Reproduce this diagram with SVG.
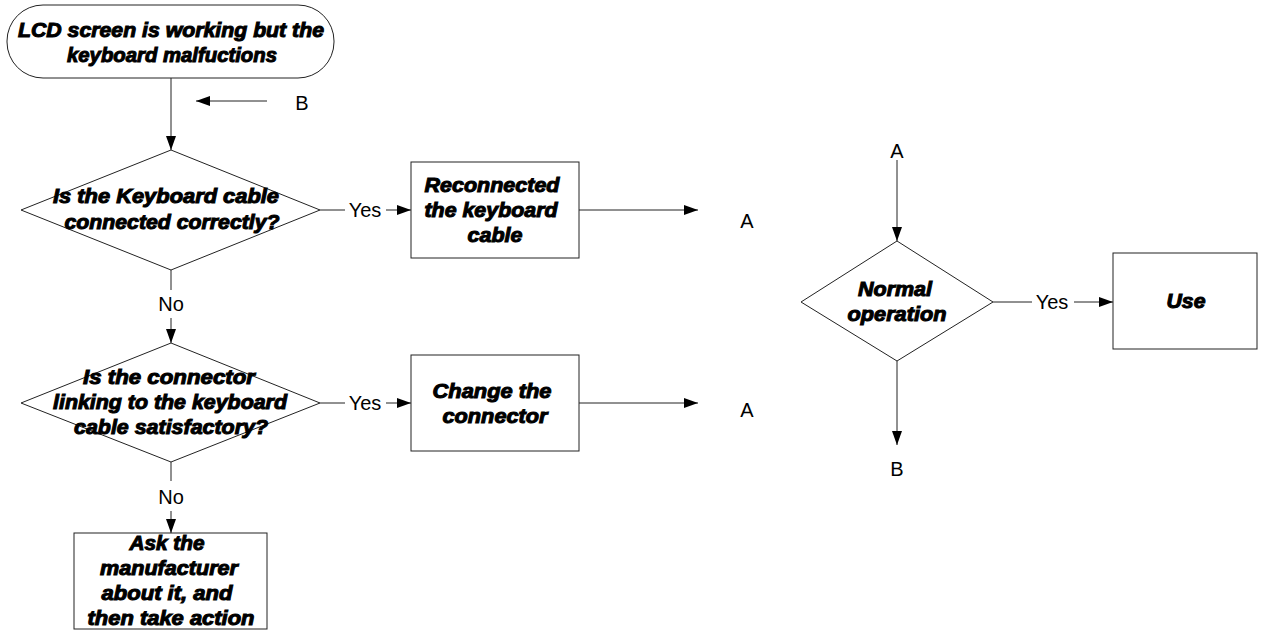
<svg xmlns="http://www.w3.org/2000/svg" width="1262" height="631" viewBox="0 0 1262 631">
<defs>
<marker id="arr" markerUnits="userSpaceOnUse" markerWidth="16" markerHeight="12" refX="14" refY="5" orient="auto">
<path d="M0,0 L14,5 L0,10 z" fill="#000"/>
</marker>
<style>
.shape{fill:#fff;stroke:#222;stroke-width:1}
.bt{font-family:"Liberation Sans",Arial,sans-serif;font-weight:bold;font-style:italic;font-size:19.5px;fill:#000;stroke:#000;stroke-width:1;text-anchor:middle}
.lb{font-family:"Liberation Sans",Arial,sans-serif;font-size:20px;fill:#000;text-anchor:middle}
.ln{fill:none;stroke:#222;stroke-width:1}
.la{fill:none;stroke:#222;stroke-width:1;marker-end:url(#arr)}
</style>
</defs>
<rect width="1262" height="631" fill="#fff"/>
<g id="connectors">
<line class="la" x1="171" y1="78" x2="171" y2="150"/>
<line class="la" x1="267" y1="101" x2="196" y2="101"/>
<line class="ln" x1="320" y1="210" x2="345" y2="210"/>
<line class="la" x1="386" y1="210" x2="411" y2="210"/>
<line class="la" x1="579" y1="210" x2="698" y2="210"/>
<line class="ln" x1="171" y1="270" x2="171" y2="290"/>
<line class="la" x1="171" y1="318" x2="171" y2="343"/>
<line class="ln" x1="320" y1="403" x2="345" y2="403"/>
<line class="la" x1="386" y1="403" x2="411" y2="403"/>
<line class="la" x1="579" y1="403" x2="698" y2="403"/>
<line class="ln" x1="171" y1="462" x2="171" y2="481"/>
<line class="la" x1="171" y1="511" x2="171" y2="533"/>
<line class="la" x1="897" y1="160" x2="897" y2="241"/>
<line class="ln" x1="993" y1="302" x2="1032" y2="302"/>
<line class="la" x1="1074" y1="302" x2="1113" y2="302"/>
<line class="la" x1="897" y1="361" x2="897" y2="445"/>
<text class="lb" x="302" y="110">B</text>
<text class="lb" x="365" y="217">Yes</text>
<text class="lb" x="747" y="228">A</text>
<text class="lb" x="171" y="311">No</text>
<text class="lb" x="365" y="410">Yes</text>
<text class="lb" x="747" y="417">A</text>
<text class="lb" x="171" y="504">No</text>
<text class="lb" x="897" y="158">A</text>
<text class="lb" x="1052" y="309">Yes</text>
<text class="lb" x="897" y="476">B</text>
</g>
<g id="start">
<rect class="shape" x="7" y="5" width="327" height="73" rx="36" ry="36"/>
<text class="bt" x="171" y="37" textLength="306" lengthAdjust="spacingAndGlyphs">LCD screen is working but the</text>
<text class="bt" x="172" y="62" textLength="210" lengthAdjust="spacingAndGlyphs">keyboard malfuctions</text>
</g>
<g id="decision1">
<polygon class="shape" points="171,150 320,210 171,270 21,210"/>
<text class="bt" x="166" y="203" textLength="226" lengthAdjust="spacingAndGlyphs">Is the Keyboard cable</text>
<text class="bt" x="172" y="229" textLength="215" lengthAdjust="spacingAndGlyphs">connected correctly?</text>
</g>
<g id="box1">
<rect class="shape" x="411" y="162" width="168" height="96"/>
<text class="bt" x="492" y="192" textLength="135" lengthAdjust="spacingAndGlyphs">Reconnected</text>
<text class="bt" x="491" y="217" textLength="133" lengthAdjust="spacingAndGlyphs">the keyboard</text>
<text class="bt" x="495" y="242" textLength="55" lengthAdjust="spacingAndGlyphs">cable</text>
</g>
<g id="decision2">
<polygon class="shape" points="171,343 320,403 171,462 21,403"/>
<text class="bt" x="169" y="384" textLength="172" lengthAdjust="spacingAndGlyphs">Is the connector</text>
<text class="bt" x="170" y="409" textLength="234" lengthAdjust="spacingAndGlyphs">linking to the keyboard</text>
<text class="bt" x="171" y="434" textLength="194" lengthAdjust="spacingAndGlyphs">cable satisfactory?</text>
</g>
<g id="box2">
<rect class="shape" x="411" y="355" width="168" height="96"/>
<text class="bt" x="492" y="398" textLength="119" lengthAdjust="spacingAndGlyphs">Change the</text>
<text class="bt" x="495" y="423" textLength="105" lengthAdjust="spacingAndGlyphs">connector</text>
</g>
<g id="box3">
<rect class="shape" x="74" y="533" width="193" height="96"/>
<text class="bt" x="167" y="550" textLength="75" lengthAdjust="spacingAndGlyphs">Ask the</text>
<text class="bt" x="169" y="575" textLength="138" lengthAdjust="spacingAndGlyphs">manufacturer</text>
<text class="bt" x="167" y="600" textLength="131" lengthAdjust="spacingAndGlyphs">about it, and</text>
<text class="bt" x="171" y="625" textLength="167" lengthAdjust="spacingAndGlyphs">then take action</text>
</g>
<g id="decision3">
<polygon class="shape" points="897,241 993,302 897,361 801,302"/>
<text class="bt" x="895" y="296" textLength="74" lengthAdjust="spacingAndGlyphs">Normal</text>
<text class="bt" x="897" y="321" textLength="99" lengthAdjust="spacingAndGlyphs">operation</text>
</g>
<g id="use">
<rect class="shape" x="1113" y="253" width="144" height="96"/>
<text class="bt" x="1186" y="308" textLength="39" lengthAdjust="spacingAndGlyphs">Use</text>
</g>
</svg>
